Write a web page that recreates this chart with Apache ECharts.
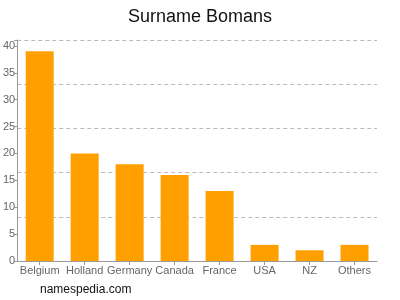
<!DOCTYPE html>
<html><head><meta charset="utf-8">
<script src="https://cdn.jsdelivr.net/npm/echarts@6/dist/echarts.min.js"></script>
<style>html,body{margin:0;padding:0;background:#fff}#c{width:400px;height:300px}</style>
</head><body><div id="c"></div>
<script>
const categories = ['Belgium','Holland','Germany','Canada','France','USA','NZ','Others'];
const values = [39, 20, 18, 16, 13, 3, 2, 3];
const yTicks = [0, 5, 10, 15, 20, 25, 30, 35, 40];
const title = 'Surname Bomans';
const footer = 'namespedia.com';

const chart = echarts.init(document.getElementById('c'), null, {renderer:'canvas'});
chart.setOption({
  animation:false,
  backgroundColor:'#fff',
  title:{text:title,left:'center',top:3,textStyle:{fontFamily:'Liberation Sans',fontSize:18,fontWeight:'normal',color:'#111'}},
  graphic:[{type:'text',left:40,top:284,style:{text:footer,font:'12px "Liberation Sans"',fill:'#111'}}],
  grid:{left:17,right:23,top:40,bottom:39,containLabel:false},
  xAxis:{type:'category',data:categories,
    axisLine:{lineStyle:{color:'#999'}},
    axisTick:{show:true,alignWithLabel:true,length:4,lineStyle:{color:'#999'}},
    axisLabel:{color:'#666',fontSize:11,fontFamily:'Liberation Sans',margin:4,interval:0}},
  yAxis:[{type:'value',min:0,max:41.1,interval:5,
    axisLine:{show:true,lineStyle:{color:'#999'}},
    axisTick:{show:true,length:3,lineStyle:{color:'#999'}},
    splitLine:{show:false},
    axisLabel:{color:'#666',fontSize:11,fontFamily:'Liberation Sans',margin:2,
      formatter:v=>yTicks.includes(v)?String(v):''}},
   {type:'value',min:0,max:5,interval:1,position:'right',
    axisLine:{show:false},axisTick:{show:false},axisLabel:{show:false},
    splitLine:{show:true,lineStyle:{color:'#bbb',type:[4,3],width:1}}}],
  series:[{type:'bar',data:values,barWidth:28,itemStyle:{color:'#ffa000'},yAxisIndex:0}]
});
</script></body></html>
